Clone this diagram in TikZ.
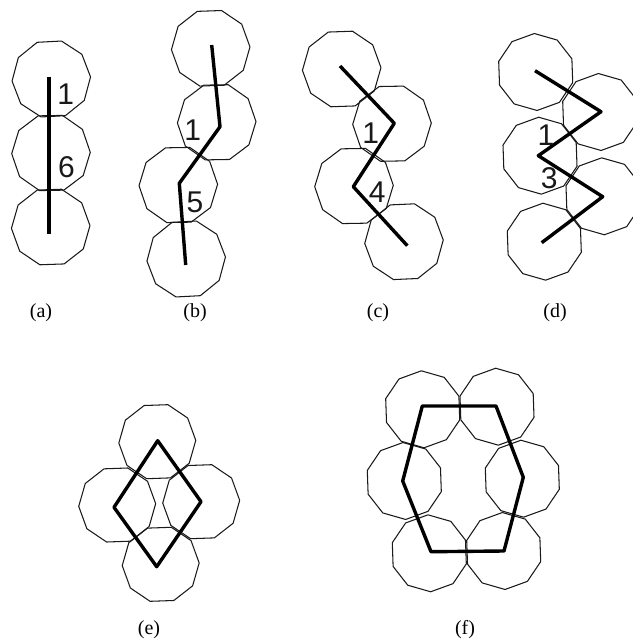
\documentclass[tikz,border=0pt]{standalone}
\usepackage{fontspec}
\newfontfamily\digitfont{Liberation Sans}
\newfontfamily\capfont{Liberation Serif}
\tikzset{
  x=1pt,y=-1pt,
  decagonline/.style={draw=black!90,line width=1.05pt,line join=round},
  chain/.style={draw=black,line width=3.4pt,line join=round},
  digit/.style={inner sep=0pt,font=\digitfont\fontsize{30}{32}\selectfont,text=black!90},
  captiontext/.style={inner sep=0pt,anchor=base,font=\capfont\fontsize{20}{22}\selectfont}
}
% decagons sharing edges: cx/cy/r/rot
\newcommand\decagons[1]{%
  \foreach \cx/\cy/\rr/\rot in {#1}{\path[decagonline] plot[variable=\t,samples at={0,36,...,324}]
  ({\cx+\rr*cos(\t+\rot)},{\cy-\rr*sin(\t+\rot)}) -- cycle;}
}
\begin{document}
\begin{tikzpicture}
\useasboundingbox (0,0) rectangle (632,639);
% (a)
\decagons{51.3/79/39.3/3,51/153/39.3/1,50.7/227/39.3/2}
\coordinate (a1) at (49,76.7); \coordinate (a2) at (49,234.3);
\draw[chain] (a1) -- (a2);
\node[digit] (la1) at (65.7,94) {1};
\node[digit] (la2) at (66.5,167) {6};
\node[captiontext] (capa) at (41,317) {(a)};
% (b)
\decagons{210.7/48.3/39.3/2,216.7/122.3/39.3/1,178.3/185/39.3/1,186.2/259/39.3/3}
\coordinate (b1) at (211.7,45); \coordinate (b2) at (220,126.7);
\coordinate (b3) at (179.3,183.3); \coordinate (b4) at (185.7,265);
\draw[chain] (b1) -- (b2) -- (b3) -- (b4);
\node[digit] (lb1) at (192.7,130) {1};
\node[digit] (lb2) at (195,202.7) {5};
\node[captiontext] (capb) at (195,317) {(b)};
% (c)
\decagons{341.7/69/39.3/2,392/123.7/39.3/1,354/186/39.3/1,404/241.7/39.3/2.5}
\coordinate (c1) at (340,66); \coordinate (c2) at (394.3,123.3);
\coordinate (c3) at (353.3,186.7); \coordinate (c4) at (407.3,245.7);
\draw[chain] (c1) -- (c2) -- (c3) -- (c4);
\node[digit] (lc1) at (370.7,132.7) {1};
\node[digit] (lc2) at (377.3,192.3) {4};
\node[captiontext] (capc) at (378,317) {(c)};
% (d)
\decagons{535.7/72/38.5/20,599.7/112/38.5/20,540/155.7/38.5/20,603/196.3/38.5/20,544.3/241.7/38.5/20}
\coordinate (d1) at (535,70.7); \coordinate (d2) at (601,111.7);
\coordinate (d3) at (538.3,155.7); \coordinate (d4) at (602.7,196.7);
\coordinate (d5) at (541.7,242.7);
\draw[chain] (d1) -- (d2) -- (d3) -- (d4) -- (d5);
\node[digit] (ld1) at (546,135) {1};
\node[digit] (ld2) at (549.3,178.3) {3};
\node[captiontext] (capd) at (555,317) {(d)};
% (e)
\decagons{157.3/441.7/38.5/2,117.2/505/38.5/2,201.2/501.7/38.5/2,160.7/564.3/38.5/2}
\coordinate (e1) at (157.7,440.7); \coordinate (e2) at (201,501.7);
\coordinate (e3) at (156.7,566.7); \coordinate (e4) at (114,507.3);
\draw[chain] (e1) -- (e2) -- (e3) -- (e4) -- cycle;
\node[captiontext] (cape) at (149,634) {(e)};
% (f)
\decagons{422.7/409.3/38.5/20,497/406.7/38.5/20,404.3/481/38.5/20,522.3/478.7/38.5/20,429.3/553.3/38.5/20,503.7/551/38.5/20}
\coordinate (f1) at (422.3,406); \coordinate (f2) at (496,406);
\coordinate (f3) at (523.3,477.3); \coordinate (f4) at (504,551);
\coordinate (f5) at (431,551.7); \coordinate (f6) at (402.7,481);
\draw[chain] (f1) -- (f2) -- (f3) -- (f4) -- (f5) -- (f6) -- cycle;
\node[captiontext] (capf) at (465,634) {(f)};
\end{tikzpicture}
\end{document}
